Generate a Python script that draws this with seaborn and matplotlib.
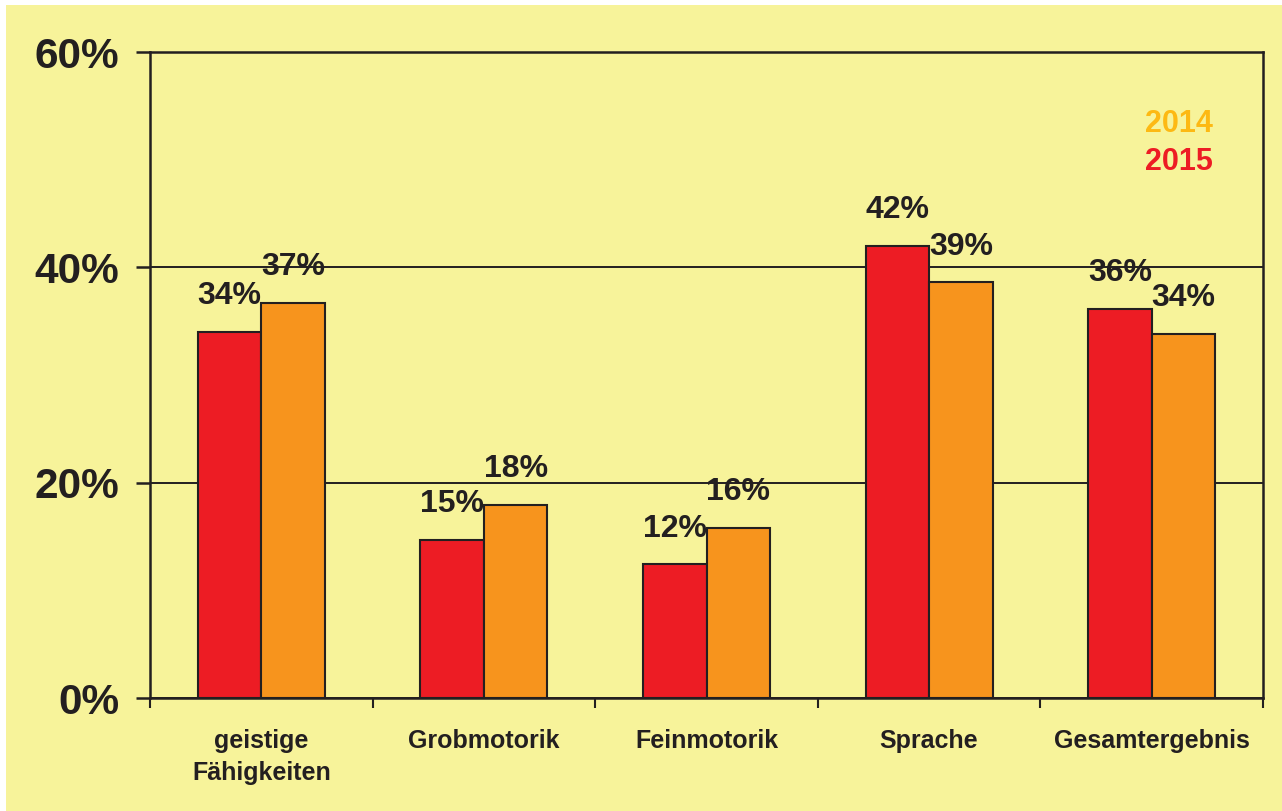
import matplotlib
matplotlib.use("Agg")
import matplotlib.pyplot as plt
import matplotlib.patches as mpatches
from matplotlib.ticker import FixedLocator, PercentFormatter
import seaborn as sns
import pandas as pd

categories = ["geistige\nFähigkeiten", "Grobmotorik", "Feinmotorik", "Sprache", "Gesamtergebnis"]
values_2015 = [34.0, 14.7, 12.4, 42.0, 36.1]
values_2014 = [36.7, 17.9, 15.8, 38.6, 33.8]
years = ["2015", "2014"]
yticks = [0, 20, 40, 60]

BG = "#F7F39A"
RED = "#ED1C24"
ORANGE = "#F7941D"
GOLD = "#FDB913"
DARK = "#231F20"

df = pd.DataFrame({
    "Kategorie": categories * 2,
    "Wert": values_2015 + values_2014,
    "Jahr": [years[0]] * len(categories) + [years[1]] * len(categories),
})

sns.set_theme(style="white")
plt.rcParams["font.family"] = ["Liberation Sans", "DejaVu Sans"]
plt.rcParams["font.weight"] = "bold"

fig = plt.figure(figsize=(12.82, 8.11), dpi=100, facecolor="white")
fig.patches.append(mpatches.Rectangle((6 / 1282, 0), 1, 1 - 5 / 811,
                                      transform=fig.transFigure, facecolor=BG,
                                      edgecolor="none", zorder=-10))
ax = fig.add_axes([150 / 1282, 1 - 698 / 811, (1263 - 150) / 1282, (698 - 52) / 811])
ax.set_facecolor(BG)

sns.barplot(data=df, x="Kategorie", y="Wert", hue="Jahr", hue_order=years,
            palette={"2015": RED, "2014": ORANGE}, saturation=1, width=0.57, gap=0,
            edgecolor=DARK, linewidth=1.5, ax=ax, legend=False, zorder=3)

ax.set_xlim(-0.5, len(categories) - 0.5)
ax.set_ylim(0, 60)
ax.yaxis.set_major_locator(FixedLocator(yticks))
ax.yaxis.set_major_formatter(PercentFormatter(decimals=0))
ax.set_xlabel("")
ax.set_ylabel("")
ax.set_axisbelow(True)
ax.grid(axis="y", color=DARK, linewidth=1.4)
ax.grid(axis="x", visible=False)

for s in ["left", "bottom", "top", "right"]:
    ax.spines[s].set_visible(True)
    ax.spines[s].set_color(DARK)
    ax.spines[s].set_linewidth(1.8)

ax.tick_params(axis="y", which="major", direction="out", length=10, width=1.8,
               color=DARK, pad=12, labelsize=30.5, labelcolor=DARK, left=True)
ax.tick_params(axis="x", which="major", length=0, pad=22, labelsize=18,
               labelcolor=DARK)
ax.set_xticks(range(len(categories)))
ax.set_xticklabels(categories, linespacing=1.45, fontweight="bold")
for lab in ax.get_yticklabels():
    lab.set_fontweight("bold")
ax.xaxis.set_minor_locator(FixedLocator([i - 0.5 for i in range(len(categories) + 1)]))
ax.tick_params(axis="x", which="minor", direction="out", length=7, width=1.5,
               color=DARK, bottom=True)

for cont in ax.containers:
    ax.bar_label(cont, fmt="{:.0f}%", padding=15, fontsize=23, fontweight="bold",
                 color=DARK)

ax.text(0.955, 0.888, "2014", transform=ax.transAxes, ha="right", va="center",
        fontsize=22, fontweight="bold", color=GOLD)
ax.text(0.955, 0.830, "2015", transform=ax.transAxes, ha="right", va="center",
        fontsize=22, fontweight="bold", color=RED)

fig.savefig("out.png", dpi=100, facecolor="white")
